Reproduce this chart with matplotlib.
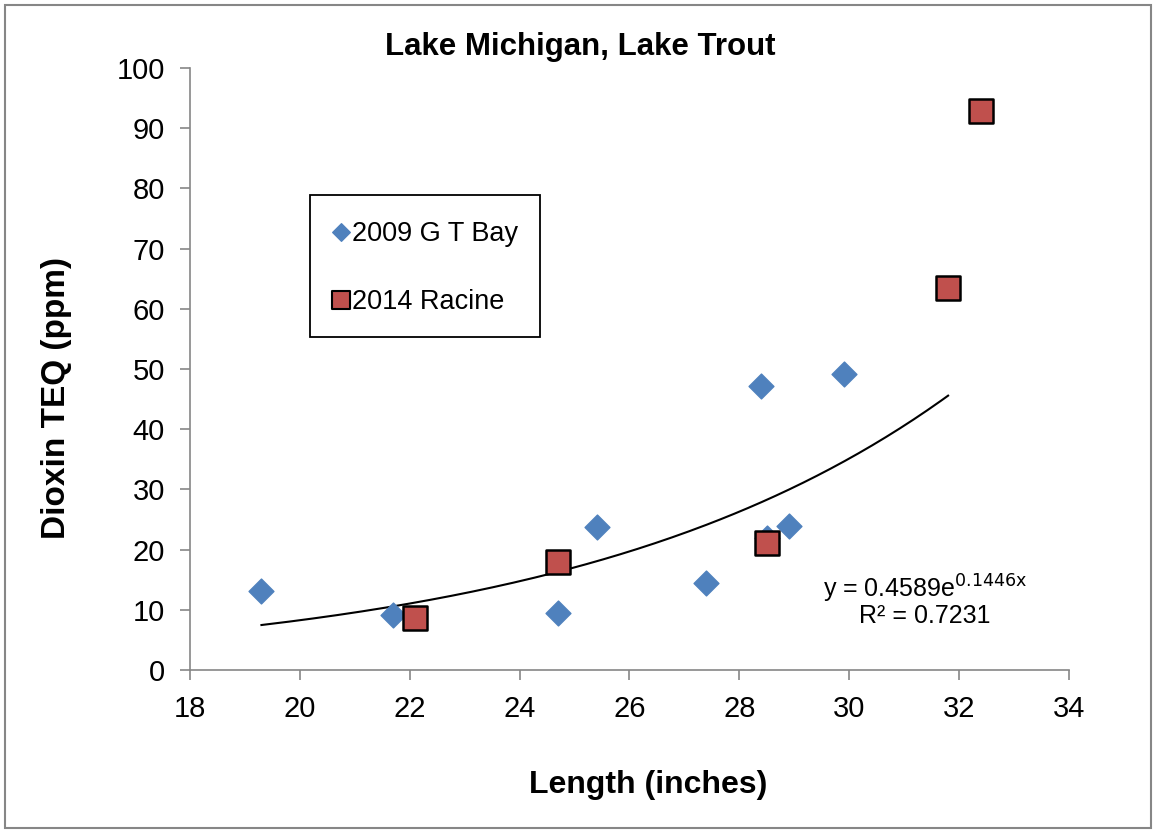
import numpy as np
import matplotlib.pyplot as plt
from matplotlib.patches import Rectangle

plt.rcParams['font.family'] = ['Liberation Sans', 'DejaVu Sans']

# 2009 Grand Traverse Bay
gt_len = [19.3, 21.7, 24.7, 25.4, 27.4, 28.4, 28.5, 28.9, 29.9]
gt_teq = [13.1, 9.1, 9.5, 23.7, 14.5, 47.2, 22.0, 23.9, 49.1]

# 2014 Racine
rac_len = [22.1, 24.7, 28.5, 31.8, 32.4]
rac_teq = [8.6, 18.0, 21.1, 63.5, 92.8]

# exponential trendline y = a * e^(b x)
fit_a = 0.4589
fit_b = 0.1446
fit_r2 = 0.7231
fit_range = (19.3, 31.8)

blue = '#4F81BD'
red = '#C0504D'

fig = plt.figure(figsize=(11.56, 8.31), dpi=100)
ax = fig.add_axes([0.1644, 0.1937, 0.7603, 0.7245])

xs = np.linspace(fit_range[0], fit_range[1], 200)
ax.plot(xs, fit_a * np.exp(fit_b * xs), color='black', lw=1.5, zorder=2)

ax.scatter(gt_len, gt_teq, marker='D', s=160, color=blue, edgecolor=blue, zorder=3)
ax.scatter(rac_len, rac_teq, marker='s', s=280, color=red, edgecolor='black', linewidth=1.8, zorder=4)

ax.set_xlim(18, 34)
ax.set_ylim(0, 100)
ax.set_xticks(range(18, 35, 2))
ax.set_yticks(range(0, 101, 10))
for s in ['top', 'right']:
    ax.spines[s].set_visible(False)
for s in ['left', 'bottom']:
    ax.spines[s].set_color('#868686')
    ax.spines[s].set_linewidth(1.2)
ax.tick_params(direction='out', length=7, width=1.2, color='#868686', labelsize=21)
ax.tick_params(axis='y', pad=11)
ax.tick_params(axis='x', pad=11)

fig.text(0.561, 0.055, 'Length (inches)', fontsize=23, fontweight='bold', ha='center', va='center')
fig.text(0.049, 0.521, 'Dioxin TEQ (ppm)', fontsize=24, fontweight='bold', ha='center', va='center',
         rotation=90)
fig.text(0.502, 0.944, 'Lake Michigan, Lake Trout', fontsize=22.5, fontweight='bold', ha='center', va='center')

eq = 'y = %.4fe$^{\\mathrm{%.4fx}}$' % (fit_a, fit_b)
ax.text(31.38, 13.4, eq, fontsize=18, ha='center', va='center')
ax.text(31.38, 8.9, 'R² = %.4f' % fit_r2, fontsize=18, ha='center', va='center')

# legend box
ax.add_patch(Rectangle((0.1365, 0.553), 0.2617, 0.236, transform=ax.transAxes, fill=False,
                       edgecolor='black', lw=1.3, zorder=5))
ax.scatter([0.1718], [0.7276], marker='D', s=80, color=blue, transform=ax.transAxes, zorder=6)
ax.scatter([0.1718], [0.6146], marker='s', s=160, color=red, edgecolor='black', linewidth=1.5,
           transform=ax.transAxes, zorder=6)
ax.text(0.1843, 0.7246, '2009 G T Bay', fontsize=19.5, va='center', ha='left', transform=ax.transAxes)
ax.text(0.1843, 0.6116, '2014 Racine', fontsize=19.5, va='center', ha='left', transform=ax.transAxes)

fig.patches.append(Rectangle((0.004, 0.004), 0.992, 0.99, transform=fig.transFigure,
                             fill=False, edgecolor='#868686', lw=1.5))

fig.savefig('out.png', dpi=100)
